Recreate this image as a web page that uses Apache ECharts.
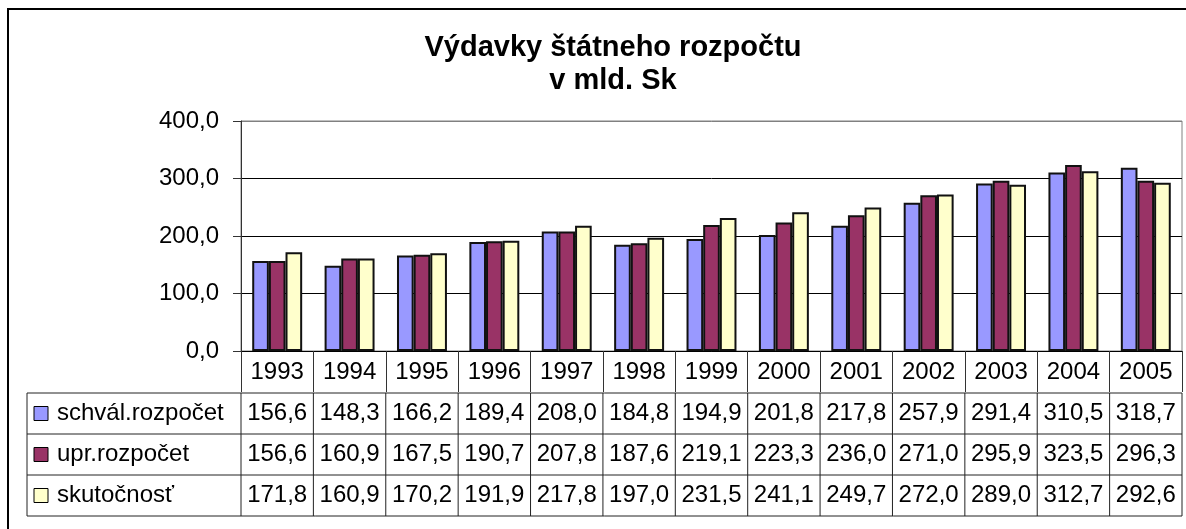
<!DOCTYPE html>
<html>
<head>
<meta charset="utf-8">
<title>Výdavky štátneho rozpočtu</title>
<script src="https://cdn.jsdelivr.net/npm/echarts@6/dist/echarts.min.js"></script>
<style>
    html, body { margin: 0; padding: 0; background: #fff; }
    #chart { width: 1186px; height: 529px; }
</style>
</head>
<body>
<div id="chart"></div>
<script>
// data
var years = ['1993', '1994', '1995', '1996', '1997', '1998', '1999', '2000', '2001', '2002', '2003', '2004', '2005'];
var schvalRozpocet = [156.6, 148.3, 166.2, 189.4, 208.0, 184.8, 194.9, 201.8, 217.8, 257.9, 291.4, 310.5, 318.7];
var uprRozpocet = [156.6, 160.9, 167.5, 190.7, 207.8, 187.6, 219.1, 223.3, 236.0, 271.0, 295.9, 323.5, 296.3];
var skutocnost = [171.8, 160.9, 170.2, 191.9, 217.8, 197.0, 231.5, 241.1, 249.7, 272.0, 289.0, 312.7, 292.6];
var seriesNames = ['schvál.rozpočet', 'upr.rozpočet', 'skutočnosť'];
var seriesColors = ['#9999FF', '#993366', '#FFFFCC'];

var FONT = '"Liberation Sans", Arial, sans-serif';

// 156.6 -> "156,6"
function fmt(v) {
    return v.toFixed(1).replace('.', ',');
}

var myChart = echarts.init(document.getElementById('chart'), null, { renderer: 'canvas' });
var allData = [schvalRozpocet, uprRozpocet, skutocnost];

myChart.setOption({
    animation: false,
    backgroundColor: '#fff',
    title: {
        text: 'Výdavky štátneho rozpočtu\nv mld. Sk',
        left: 608,
        top: 26,
        textAlign: 'center',
        textStyle: {
            fontFamily: FONT,
            fontSize: 29,
            fontWeight: 'bold',
            color: '#000',
            lineHeight: 33
        }
    },
    grid: {
        left: 241,
        top: 121,
        right: 4,
        bottom: 178,
        show: true,
        borderColor: '#808080',
        borderWidth: 1
    },
    xAxis: {
        type: 'category',
        data: years,
        axisLine: { lineStyle: { color: '#000', width: 1 } },
        axisTick: { show: true, length: 41, lineStyle: { color: '#333' } },
        axisLabel: { fontFamily: FONT, fontSize: 24, color: '#000', margin: 9 }
    },
    yAxis: {
        type: 'value',
        min: 0,
        max: 400,
        interval: 100,
        axisLine: { show: true, lineStyle: { color: '#333' } },
        axisTick: { show: true, length: 8, lineStyle: { color: '#333' } },
        axisLabel: {
            fontFamily: FONT, fontSize: 24, color: '#000', margin: 22,
            formatter: function (v) { return fmt(v); }
        },
        splitLine: { lineStyle: { color: ['#000', '#000', '#000', '#000', '#808080'], width: 1 } }
    },
    series: seriesNames.map(function (name, k) {
        return {
            name: name,
            type: 'bar',
            data: allData[k],
            barGap: '0%',
            barCategoryGap: '31%',
            itemStyle: {
                color: seriesColors[k],
                borderColor: '#111',
                borderWidth: 2
            }
        };
    })
});

// data table below the axis
function buildTable() {
    var c0 = myChart.convertToPixel({ xAxisIndex: 0 }, 0);
    var c1 = myChart.convertToPixel({ xAxisIndex: 0 }, 1);
    var catW = c1 - c0;
    var left = c0 - catW / 2;
    var right = left + catW * years.length;
    var y0 = myChart.convertToPixel({ yAxisIndex: 0 }, 0);
    var tableLeft = 27;
    var rowTop = y0 + 42;
    var rowH = 41;
    var els = [];
    var line = function (x1, y1, x2, y2) {
        els.push({
            type: 'line',
            shape: { x1: x1, y1: y1, x2: x2, y2: y2 },
            style: { stroke: '#222', lineWidth: 1 },
            z: 10
        });
    };

    for (var r = 0; r <= seriesNames.length; r++) {
        line(tableLeft, rowTop + r * rowH, right, rowTop + r * rowH);
    }
    var bottom = rowTop + seriesNames.length * rowH;
    line(tableLeft, rowTop, tableLeft, bottom);
    for (var i = 0; i <= years.length; i++) {
        line(left + i * catW, rowTop, left + i * catW, bottom);
    }

    for (var k = 0; k < seriesNames.length; k++) {
        var cy = rowTop + k * rowH + rowH / 2;
        els.push({
            type: 'rect',
            shape: { x: 34, y: cy - 7, width: 14, height: 14 },
            style: { fill: seriesColors[k], stroke: '#000', lineWidth: 1 },
            z: 10
        });
        els.push({
            type: 'text',
            x: 57, y: cy,
            style: {
                text: seriesNames[k], font: '24px ' + FONT, fill: '#000',
                textAlign: 'left', textVerticalAlign: 'middle'
            },
            z: 10
        });
        for (var j = 0; j < years.length; j++) {
            els.push({
                type: 'text',
                x: left + j * catW + catW / 2, y: cy,
                style: {
                    text: fmt(allData[k][j]), font: '24px ' + FONT, fill: '#000',
                    textAlign: 'center', textVerticalAlign: 'middle'
                },
                z: 10
            });
        }
    }

    // outer chart frame (only top/left visible in the shot)
    els.push({
        type: 'rect',
        shape: { x: 8, y: 9, width: 1200, height: 600 },
        style: { fill: 'none', stroke: '#000', lineWidth: 2 },
        silent: true,
        z: 10
    });

    myChart.setOption({ graphic: { elements: els } });
}

buildTable();
</script>
</body>
</html>
